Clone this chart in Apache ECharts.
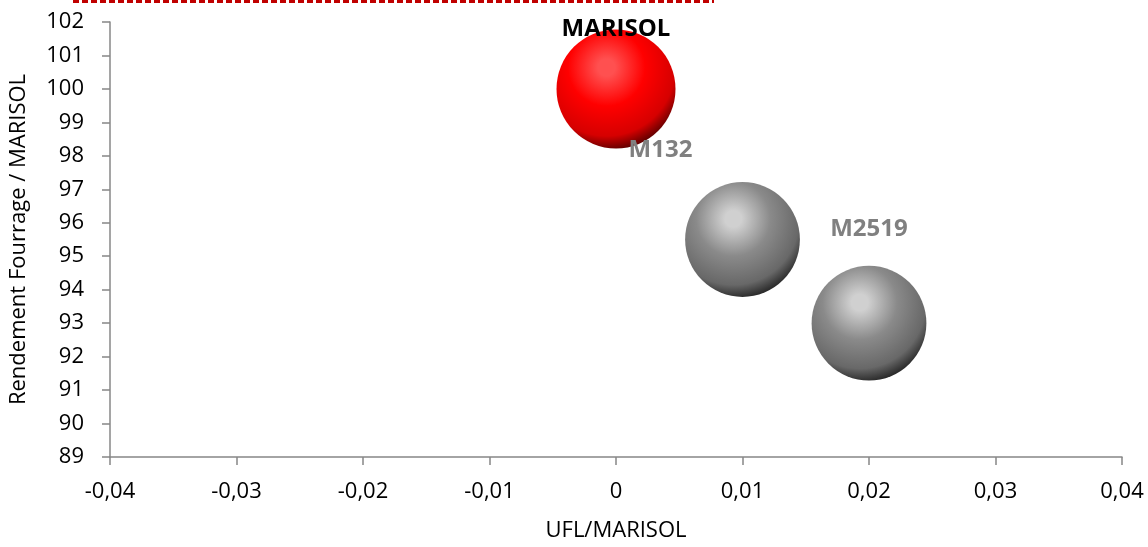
<!DOCTYPE html>
<html>
<head>
<meta charset="utf-8">
<script src="https://cdn.jsdelivr.net/npm/echarts@6/dist/echarts.min.js"></script>
<style>
html,body{margin:0;padding:0;background:#fff;}
#chart{width:1148px;height:547px;}
</style>
</head>
<body>
<div id="chart"></div>
<script>
// Data
const names = ['MARISOL', 'M132', 'M2519'];
const uflValues = [0, 0.01, 0.02];
const rendementValues = [100, 95.5, 93];
const bubbleSizes = [100, 93, 93];
const xTicks = [-0.04, -0.03, -0.02, -0.01, 0, 0.01, 0.02, 0.03, 0.04];
const yTicks = [89, 90, 91, 92, 93, 94, 95, 96, 97, 98, 99, 100, 101, 102];

const FONT = '"Open Sans", sans-serif';

function sphere(light, mid, dark, edge) {
  return {
    type: 'radial', x: 0.42, y: 0.32, r: 0.72,
    colorStops: [
      { offset: 0, color: light },
      { offset: 0.1, color: light },
      { offset: 0.45, color: mid },
      { offset: 0.8, color: dark },
      { offset: 1, color: edge }
    ]
  };
}
const redFill = sphere('#ff5050', '#ff0000', '#d60000', '#4a0000');
const greyFill = sphere('#d0d0d0', '#8a8a8a', '#686868', '#1c1c1c');

const labelStyles = [
  { color: '#000000', offset: [0, -60] },
  { color: '#808080', offset: [-82, -89] },
  { color: '#808080', offset: [0, -94] }
];

const data = names.map((n, i) => ({
  name: n,
  value: [uflValues[i], rendementValues[i], bubbleSizes[i]],
  itemStyle: { color: i === 0 ? redFill : greyFill },
  label: {
    show: true,
    position: 'inside',
    formatter: n,
    offset: labelStyles[i].offset,
    color: labelStyles[i].color,
    fontFamily: FONT,
    fontWeight: 'bold',
    fontSize: 24
  }
}));

const fmt = v => String(+(+v).toFixed(2)).replace('.', ',');

const chart = echarts.init(document.getElementById('chart'));
chart.setOption({
  animation: false,
  backgroundColor: '#ffffff',
  grid: { left: 109, right: 26, top: 22, bottom: 86, containLabel: false },
  xAxis: {
    type: 'value',
    min: xTicks[0], max: xTicks[xTicks.length - 1], interval: 0.01,
    name: 'UFL/MARISOL',
    nameLocation: 'middle',
    nameGap: 63,
    nameTextStyle: { fontFamily: FONT, fontSize: 22, color: '#000' },
    axisLine: { show: true, onZero: false, lineStyle: { color: '#878787', width: 1.5 } },
    axisTick: { show: true, length: 8, inside: false, lineStyle: { color: '#878787', width: 1.5 } },
    axisLabel: { fontFamily: FONT, fontSize: 22, color: '#000', margin: 24, formatter: fmt },
    splitLine: { show: false }
  },
  yAxis: {
    type: 'value',
    min: yTicks[0], max: yTicks[yTicks.length - 1], interval: 1,
    name: 'Rendement Fourrage / MARISOL',
    nameLocation: 'middle',
    nameGap: 80,
    nameRotate: 90,
    nameTextStyle: { fontFamily: FONT, fontSize: 22, color: '#000' },
    axisLine: { show: true, onZero: false, lineStyle: { color: '#878787', width: 1.5 } },
    axisTick: { show: true, length: 8, inside: false, lineStyle: { color: '#878787', width: 1.5 } },
    axisLabel: { fontFamily: FONT, fontSize: 22, color: '#000', margin: 26 },
    splitLine: { show: false }
  },
  graphic: [{
    type: 'line',
    shape: { x1: 73, y1: 1.5, x2: 714, y2: 1.5 },
    style: { stroke: '#c00000', lineWidth: 3, lineDash: [6, 3] },
    silent: true
  }],
  series: [{
    type: 'scatter',
    data: data,
    symbol: 'circle',
    symbolSize: v => 119 * Math.sqrt(v[2] / 100),
    itemStyle: { opacity: 1 }
  }]
});
</script>
</body>
</html>
